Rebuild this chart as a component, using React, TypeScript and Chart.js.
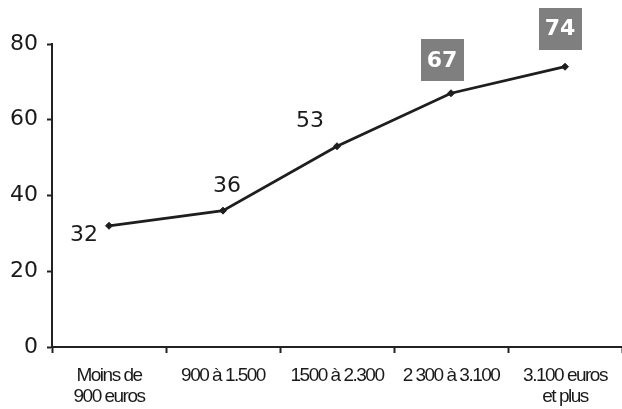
import React, { useEffect, useRef } from "react";
import { Chart, registerables } from "chart.js";

Chart.register(...registerables);

// Income brackets and the share observed in each
const categories: (string | string[])[] = [
  ["Moins de", "900 euros"],
  "900 à 1.500",
  "1500 à 2.300",
  "2 300 à 3.100",
  ["3.100 euros", "et plus"],
];
const values: number[] = [32, 36, 53, 67, 74];
const yTicks: number[] = [0, 20, 40, 60, 80];

// Where each value label sits relative to its point (dx, dy)
const labelPlacement: [number, number][] = [
  [-25, 8],
  [4, -25],
  [-27, -26],
  [-9, -33],
  [-5, -38],
];
// The two top brackets get a boxed label
const boxedFrom = 3;

const valueLabels = {
  id: "valueLabels",
  afterDatasetsDraw(chart: Chart) {
    const ctx = chart.ctx;
    const meta = chart.getDatasetMeta(0);
    ctx.save();
    ctx.textAlign = "center";
    ctx.textBaseline = "middle";
    meta.data.forEach((pt: any, i: number) => {
      const [dx, dy] = labelPlacement[i];
      const x = pt.x + dx;
      const y = pt.y + dy;
      const text = String(values[i]);
      if (i >= boxedFrom) {
        ctx.fillStyle = "#7f7f7f";
        ctx.fillRect(Math.round(x - 21.5), Math.round(y - 21), 43, 42);
        ctx.fillStyle = "#ffffff";
        ctx.font = "bold 22px 'DejaVu Sans'";
        ctx.fillText(text, x, y + 1);
      } else {
        ctx.fillStyle = "#1a1a1a";
        ctx.font = "22px 'DejaVu Sans'";
        ctx.fillText(text, x, y + 1);
      }
    });
    ctx.restore();
  },
};

// Tighter letter spacing for the bracket names under the x axis
const condensedXLabels = {
  id: "condensedXLabels",
  afterLayout(chart: any) {
    const xs = chart.scales.x;
    if (!xs || xs.__condensed) return;
    const orig = xs.drawLabels.bind(xs);
    xs.drawLabels = (area: any) => {
      const ctx = chart.ctx;
      ctx.save();
      (ctx as any).letterSpacing = "-1.5px";
      orig(area);
      ctx.restore();
    };
    xs.__condensed = true;
  },
};

export default function App() {
  const canvasRef = useRef<HTMLCanvasElement | null>(null);

  useEffect(() => {
    if (!canvasRef.current) return;
    const chart = new Chart(canvasRef.current, {
      type: "line",
      data: {
        labels: categories,
        datasets: [
          {
            data: values,
            borderColor: "#1e1e1e",
            borderWidth: 2.8,
            tension: 0,
            pointStyle: "rectRot",
            pointRadius: 3.5,
            pointBackgroundColor: "#1e1e1e",
            pointBorderColor: "#1e1e1e",
            pointBorderWidth: 1,
          },
        ],
      },
      options: {
        responsive: false,
        animation: false,
        events: [],
        layout: { autoPadding: false, padding: { top: 44, left: 0, right: 0, bottom: 0 } },
        plugins: {
          legend: { display: false },
          tooltip: { enabled: false },
        },
        scales: {
          x: {
            type: "category",
            offset: true,
            afterFit(scale: any) {
              scale.height = 62;
              scale.paddingLeft = 0;
              scale.paddingRight = 0;
            },
            grid: {
              display: true,
              drawOnChartArea: false,
              drawTicks: true,
              tickLength: 6,
              tickWidth: 2,
              tickColor: "#222222",
              offset: true,
            },
            border: { display: true, color: "#222222", width: 2 },
            ticks: {
              color: "#1a1a1a",
              font: { family: "'Liberation Sans', Arial", size: 19, lineHeight: 1.1 },
              padding: 12,
              maxRotation: 0,
              minRotation: 0,
              autoSkip: false,
            },
          },
          y: {
            min: 0,
            max: 80,
            afterFit(scale: any) {
              scale.width = 52;
            },
            afterBuildTicks(scale: any) {
              scale.ticks = yTicks.map((v) => ({ value: v }));
            },
            grid: {
              display: true,
              drawOnChartArea: false,
              drawTicks: true,
              tickLength: 5,
              tickWidth: 2,
              tickColor: "#222222",
            },
            border: { display: true, color: "#222222", width: 2 },
            ticks: {
              color: "#1a1a1a",
              font: { family: "'DejaVu Sans'", size: 22 },
              padding: 9,
            },
          },
        },
      },
      plugins: [condensedXLabels, valueLabels],
    });
    return () => chart.destroy();
  }, []);

  return (
    <div style={{ position: "absolute", left: 0, top: 0, width: 622, height: 409, background: "#fff" }}>
      <canvas ref={canvasRef} width={622} height={409} />
    </div>
  );
}
